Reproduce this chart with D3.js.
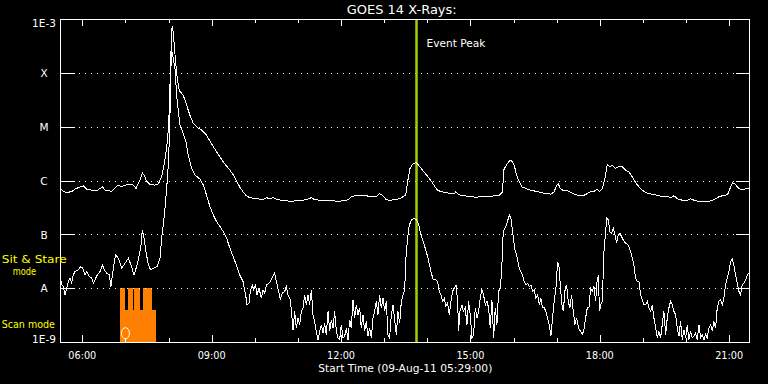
<!DOCTYPE html>
<html><head><meta charset="utf-8">
<script src="https://cdn.jsdelivr.net/npm/d3@7"></script>
<style>html,body{margin:0;padding:0;background:#000;overflow:hidden}</style>
</head><body>
<svg id="chart" width="768" height="384"></svg>
<script>
// ---- data (times in minutes after 00:00 UT, 09-Aug-2011; flux in W/m^2) ----
const titleText = "GOES 14 X-Rays:";
const xAxisTitle = "Start Time (09-Aug-11 05:29:00)";
const timeDomain = [329, 1289];
const xTickHours = [6,7,8,9,10,11,12,13,14,15,16,17,18,19,20,21];
const xLabelHours = [6, 9, 12, 15, 18, 21];
const xTickLabels = ["06:00","09:00","12:00","15:00","18:00","21:00"];
const yTickValues = [1e-9,1e-8,1e-7,1e-6,1e-5,1e-4,1e-3];
const yTickLabels = ["1E-9","A","B","C","M","X","1E-3"];
const eventPeakTime = 825;
const eventLabel = "Event Peak";
const modeLabels = ["Sit & Stare", "mode", "Scan mode"];
const modeStart = [412.5, 419.4, 423.6, 429.9, 432.0, 440.3, 444.5, 457.0];
const modeEnd   = [419.4, 423.6, 429.9, 432.0, 440.3, 444.5, 457.0, 462.6];
const modeLevel = [1e-8, 3.9e-9, 1e-8, 3.9e-9, 1e-8, 3.9e-9, 1e-8, 3.9e-9];
const markerTime = 420, markerFlux = 1.45e-9;

const longChannel = [
[329.0,7.1e-7],[333.6,6.3e-7],[338.3,6.0e-7],[345.2,6.2e-7],[349.9,6.9e-7],[356.8,7.6e-7],[361.5,7.9e-7],[366.1,6.9e-7],[373.1,6.6e-7],[380.0,6.4e-7],[384.6,7.1e-7],[388.4,7.6e-7],[391.6,6.6e-7],[398.6,6.4e-7],[400.9,6.2e-7],[405.5,7.3e-7],[410.1,8.2e-7],[414.8,7.6e-7],[419.4,8.2e-7],[426.4,8.6e-7],[431.0,8.2e-7],[434.7,7.1e-7],[438.0,8.8e-7],[441.2,1.09e-6],[443.5,1.39e-6],[445.9,1.26e-6],[449.6,9.7e-7],[454.2,8.4e-7],[461.2,8.2e-7],[465.8,8.6e-7],[470.4,1.17e-6],[473.7,1.92e-6],[476.5,3.4e-6],[478.3,5.2e-6],[480.2,1.06e-5],[482.0,5.8e-5],[483.4,2.4e-4],[484.3,6.5e-4],[485.3,7.0e-4],[486.7,5.7e-4],[488.0,3.2e-4],[489.9,1.58e-4],[492.2,7.7e-5],[495.0,4.7e-5],[500.6,3.8e-5],[505.2,2.5e-5],[509.8,1.62e-5],[514.5,1.14e-5],[519.1,9.9e-6],[526.1,8.6e-6],[533.0,6.9e-6],[540.0,4.8e-6],[546.9,3.4e-6],[556.2,2.2e-6],[565.5,1.55e-6],
[569.7,1.29e-6],[574.3,1.01e-6],[579.0,7.6e-7],[583.6,6.2e-7],[588.2,5.2e-7],[592.9,4.8e-7],[602.2,4.6e-7],[611.4,4.4e-7],[616.1,4.8e-7],[620.7,4.6e-7],[625.3,4.8e-7],[630.0,4.5e-7],[636.9,4.3e-7],[643.9,4.2e-7],[650.8,4.1e-7],[657.8,4.2e-7],[667.1,4.3e-7],[674.0,4.5e-7],[678.7,4.8e-7],[683.3,4.4e-7],[690.3,4.3e-7],[699.5,4.3e-7],[708.8,4.2e-7],[715.8,4.1e-7],[722.7,4.2e-7],[729.7,4.4e-7],[734.3,5.0e-7],[739.0,5.2e-7],[745.9,5.2e-7],[755.2,5.2e-7],[762.1,5.0e-7],[769.1,5.0e-7],[773.7,5.7e-7],[777.4,5.3e-7],[783.0,4.4e-7],[787.6,4.3e-7],[794.6,4.4e-7],[801.6,4.6e-7],[806.2,5.0e-7],[809.9,5.3e-7],
[812.6,9.4e-7],[815.9,1.67e-6],[819.6,2.0e-6],[824.2,2.15e-6],[827.9,1.92e-6],[833.5,1.55e-6],[839.0,1.26e-6],[845.1,9.9e-7],[849.7,8.0e-7],[854.4,6.6e-7],[859.0,6.2e-7],[866.0,6.0e-7],[872.9,5.6e-7],[877.5,5.7e-7],[879.9,6.2e-7],[883.1,5.6e-7],[886.8,5.3e-7],[891.4,5.3e-7],[896.1,5.0e-7],[903.0,5.0e-7],[907.7,4.8e-7],[912.3,5.0e-7],[919.3,5.1e-7],[926.2,5.0e-7],[933.2,5.2e-7],[940.1,5.3e-7],[944.8,6.2e-7],[946.2,1.55e-6],[948.5,1.79e-6],[951.7,2.07e-6],[955.4,2.4e-6],[958.7,2.2e-6],[961.0,1.92e-6],[964.2,1.26e-6],[968.0,9.4e-7],[971.7,7.6e-7],[977.2,7.1e-7],[984.2,6.6e-7],[991.1,6.3e-7],[998.1,6.0e-7],[1005.1,5.7e-7],[1012.0,5.6e-7],[1016.6,6.2e-7],[1019.9,8.2e-7],[1022.2,8.8e-7],[1024.5,7.3e-7],[1028.2,6.6e-7],[1032.9,6.6e-7],[1037.5,6.2e-7],[1044.5,5.6e-7],[1049.1,5.3e-7],[1053.7,5.2e-7],
[1058.0,5.3e-7],[1062.6,5.7e-7],[1067.2,6.2e-7],[1071.9,6.3e-7],[1076.5,6.9e-7],[1079.7,6.3e-7],[1083.5,7.1e-7],[1087.2,1.09e-6],[1090.4,1.98e-6],[1093.7,1.79e-6],[1097.4,1.92e-6],[1102.0,1.67e-6],[1106.6,1.84e-6],[1111.3,1.79e-6],[1115.9,1.55e-6],[1120.6,1.45e-6],[1125.2,1.17e-6],[1129.8,9.2e-7],[1134.5,7.6e-7],[1139.1,6.6e-7],[1143.7,6.0e-7],[1148.4,5.7e-7],[1155.3,5.5e-7],[1162.3,5.2e-7],[1169.2,5.0e-7],[1173.9,5.1e-7],[1178.5,4.8e-7],[1183.2,5.2e-7],[1187.8,4.6e-7],[1194.7,4.3e-7],[1201.7,4.3e-7],[1206.3,4.6e-7],[1211.0,4.3e-7],[1217.9,4.1e-7],[1224.9,4.0e-7],[1231.8,4.1e-7],[1236.5,4.3e-7],[1241.1,4.6e-7],[1245.8,5.0e-7],[1250.4,5.2e-7],[1255.0,5.3e-7],[1258.7,5.7e-7],[1262.0,7.6e-7],[1265.2,9.1e-7],[1268.9,8.4e-7],[1272.7,7.3e-7],[1275.9,6.8e-7],[1280.5,6.9e-7],[1285.2,7.1e-7],[1288.4,7.1e-7]
];

const shortChannel = [
[329.0,1.77e-8],[331.3,1.15e-8],[333.6,1.07e-8],[336.0,7.5e-9],[338.3,1.0e-8],[340.6,1.33e-8],[342.9,1.54e-8],[345.2,1.24e-8],[347.5,1.77e-8],[349.9,2.03e-8],[354.5,2.19e-8],[357.7,2.52e-8],[360.5,2.35e-8],[363.8,1.77e-8],[366.1,2.03e-8],[369.8,1.65e-8],[373.1,1.54e-8],[375.4,1.24e-8],[377.7,1.43e-8],[380.9,1.77e-8],[384.6,2.03e-8],[387.9,2.7e-8],[390.7,2.19e-8],[393.9,1.9e-8],[397.6,1.77e-8],[399.9,1.07e-8],[403.2,2.35e-8],[406.4,4.14e-8],[410.1,3.6e-8],[414.8,2.35e-8],[418.0,2.7e-8],[424.1,3.6e-8],[427.8,2.7e-8],[431.9,1.77e-8],[435.7,2.52e-8],[439.4,4.14e-8],[441.7,6.35e-8],[443.5,1.2e-7],[445.9,8.4e-8],[448.6,4.77e-8],[451.9,2.7e-8],[455.1,2.19e-8],[458.8,2.35e-8],[464.4,2.52e-8],[468.1,3.6e-8],[470.4,8.4e-8],[472.7,1.49e-7],[475.1,3.03e-7],[477.4,7.1e-7],[479.7,1.92e-6],[481.1,6.0e-6],[482.0,1.62e-5],[482.9,5.8e-5],[483.9,2.8e-4],[486.7,1.82e-4],[489.0,1.19e-4],[491.3,3.8e-5],[495.9,1.06e-5],[500.6,7.4e-6],[504.3,5.2e-6],[507.5,2.9e-6],[512.2,1.67e-6],[516.8,1.26e-6],[523.8,1.06e-6],[528.4,8.2e-7],[533.0,5.3e-7],[537.7,3.25e-7],[542.3,2.28e-7],[546.9,1.72e-7],[551.6,1.39e-7],[556.2,1.12e-7],[560.9,8.4e-8],[565.5,5.5e-8],
[569.7,3.9e-8],[574.3,2.7e-8],[579.0,1.77e-8],[583.6,1.33e-8],[587.3,7.5e-9],[589.2,4.9e-9],[592.0,5.3e-9],[593.8,8.7e-9],[596.6,1.15e-8],[598.4,9.3e-9],[601.2,1.15e-8],[603.1,7.5e-9],[605.9,1.0e-8],[609.1,6.5e-9],[611.4,9.3e-9],[613.8,8.1e-9],[616.1,1.15e-8],[619.8,1.24e-8],[623.0,1.43e-8],[625.3,1.65e-8],[627.7,1.9e-8],[630.0,1.33e-8],[633.2,8.7e-9],[635.5,6.1e-9],[638.3,8.1e-9],[641.6,8.7e-9],[643.9,1.07e-8],[646.2,7.5e-9],[649.5,6.1e-9],[651.8,2.8e-9],[653.2,1.69e-9],[655.5,3.7e-9],[657.8,1.82e-9],[660.1,2.8e-9],[662.4,2.1e-9],[664.8,3.7e-9],[667.1,4.3e-9],[669.4,7.5e-9],[671.7,4.9e-9],[674.0,7.5e-9],[676.3,4.9e-9],[678.7,9.3e-9],[681.0,3.2e-9],[683.3,2.4e-9],[685.6,1.58e-9],[687.9,1.1e-9],[690.3,1.58e-9],[692.6,2.1e-9],[694.9,1.47e-9],[697.2,2.25e-9],[699.5,1.37e-9],[701.9,3.7e-9],[704.2,1.58e-9],[706.5,2.6e-9],[708.8,1.82e-9],[711.1,3.7e-9],[713.5,1.58e-9],[715.8,1.19e-9],[718.1,1.1e-9],[720.4,2.1e-9],[722.7,1.19e-9],[725.0,1.27e-9],[727.4,1.82e-9],[729.7,1.1e-9],[732.0,2.6e-9],[734.3,1.82e-9],[736.6,6.1e-9],[739.0,2.8e-9],[741.3,4.9e-9],[743.6,3.2e-9],[745.9,4.3e-9],[748.2,1.82e-9],[750.5,3.2e-9],[752.9,1.58e-9],[755.2,2.4e-9],[757.5,1.27e-9],[759.8,1.82e-9],[762.1,1.19e-9],[764.5,2.8e-9],[766.8,3.7e-9],[769.1,5.7e-9],[771.4,3.2e-9],[773.7,7.5e-9],[776.0,4.3e-9],[778.4,6.5e-9],[780.7,3.7e-9],[783.0,5.7e-9],[785.3,1.37e-9],[787.6,1.19e-9],[790.0,3.2e-9],[792.3,4.9e-9],[794.6,2.6e-9],[796.9,1.37e-9],[799.2,3.7e-9],[801.6,2.25e-9],[803.9,5.7e-9],[806.2,7.5e-9],[808.5,9.3e-9],
[810.3,3.6e-8],[812.6,8.4e-8],[815.0,1.49e-7],[818.6,1.9e-7],[821.9,1.98e-7],[825.1,1.85e-7],[827.9,1.54e-7],[831.2,9.7e-8],[835.8,6.35e-8],[840.4,3.9e-8],[845.1,2.03e-8],[848.3,1.43e-8],[852.0,1.43e-8],[854.4,1.33e-8],[856.7,8.7e-9],[859.0,7.5e-9],[861.3,5.7e-9],[863.6,6.5e-9],[866.0,4.6e-9],[868.3,5.3e-9],[870.6,3.2e-9],[872.9,5.7e-9],[875.2,8.7e-9],[877.5,1.0e-8],[879.9,1.15e-8],[882.2,5.7e-9],[883.6,1.58e-9],[885.4,3.7e-9],[888.2,4.9e-9],[890.1,3.7e-9],[892.8,4.3e-9],[895.2,2.1e-9],[897.5,5.7e-9],[899.8,3.2e-9],[902.1,1.19e-9],[904.4,1.37e-9],[906.8,4.3e-9],[909.1,2.8e-9],[911.4,3.7e-9],[913.7,6.5e-9],[916.0,9.3e-9],[918.3,7.5e-9],[920.7,4.9e-9],[923.0,5.7e-9],[925.3,4.3e-9],[927.6,1.82e-9],[929.9,6.1e-9],[932.3,1.19e-9],[934.6,4.3e-9],[936.9,2.1e-9],[939.2,8.7e-9],[941.5,1.0e-8],[943.4,2.03e-8],[945.7,1.12e-7],[948.0,1.29e-7],[950.8,1.6e-7],[954.1,2.28e-7],[956.4,1.98e-7],[958.7,1.12e-7],[961.5,5.5e-8],[964.2,4.14e-8],[968.0,2.35e-8],[972.6,1.77e-8],[974.9,1.33e-8],[977.2,1.15e-8],[979.6,1.24e-8],[981.9,1.07e-8],[984.2,1.15e-8],[986.5,8.7e-9],[988.8,9.3e-9],[991.1,6.5e-9],[993.5,7.5e-9],[995.8,4.9e-9],[998.1,6.5e-9],[1000.4,4.3e-9],[1002.7,4.3e-9],[1005.1,3.7e-9],[1007.4,2.8e-9],[1009.7,2.1e-9],[1012.0,1.27e-9],[1014.3,2.8e-9],[1016.6,5.7e-9],[1019.0,1.0e-8],[1021.3,3.1e-8],[1023.6,2.35e-8],[1025.0,1.15e-8],[1027.3,4.9e-9],[1029.2,3.7e-9],[1031.9,1.0e-8],[1033.8,1.15e-8],[1036.1,5.7e-9],[1038.4,4.3e-9],[1040.8,7.5e-9],[1043.1,3.7e-9],[1045.4,2.1e-9],[1047.7,2.8e-9],[1050.5,1.82e-9],
[1053.3,1.58e-9],[1055.6,1.37e-9],[1058.0,1.69e-9],[1060.3,2.8e-9],[1062.6,4.3e-9],[1064.9,4.3e-9],[1067.2,1.0e-8],[1069.5,8.7e-9],[1071.9,1.07e-8],[1074.2,5.7e-9],[1076.5,1.54e-8],[1077.9,1.65e-8],[1079.7,3.7e-9],[1081.1,4.9e-9],[1083.5,5.7e-9],[1085.8,4.77e-8],[1088.1,1.12e-7],[1090.0,2.03e-7],[1091.8,1.85e-7],[1094.1,1.12e-7],[1096.4,1.04e-7],[1098.8,1.29e-7],[1101.1,9.7e-8],[1103.4,6.8e-8],[1105.7,9.7e-8],[1108.0,1.04e-7],[1110.4,9.0e-8],[1112.7,7.85e-8],[1115.9,6.8e-8],[1119.6,6.35e-8],[1122.9,4.77e-8],[1125.2,3.6e-8],[1127.5,2.7e-8],[1129.8,1.54e-8],[1132.1,1.33e-8],[1134.5,1.33e-8],[1136.8,7.5e-9],[1139.1,6.1e-9],[1141.4,4.9e-9],[1143.7,4.9e-9],[1146.1,5.7e-9],[1148.4,4.3e-9],[1150.7,3.7e-9],[1153.0,4.9e-9],[1155.3,2.8e-9],[1157.7,1.82e-9],[1160.0,1.19e-9],[1162.3,1.58e-9],[1164.6,1.19e-9],[1166.9,2.1e-9],[1169.2,3.7e-9],[1171.6,1.37e-9],[1173.9,2.8e-9],[1176.2,4.3e-9],[1178.5,5.7e-9],[1180.8,4.9e-9],[1183.2,3.7e-9],[1185.5,3.2e-9],[1187.8,1.82e-9],[1190.1,1.27e-9],[1192.4,2.4e-9],[1194.7,1.1e-9],[1197.1,1.69e-9],[1199.4,1.19e-9],[1201.7,2.1e-9],[1204.0,1.1e-9],[1206.3,1.58e-9],[1208.7,1.19e-9],[1211.0,1.27e-9],[1213.3,1.47e-9],[1215.6,1.1e-9],[1217.9,2.1e-9],[1220.3,1.19e-9],[1222.6,1.37e-9],[1224.9,1.1e-9],[1227.2,1.37e-9],[1229.5,1.19e-9],[1231.8,1.82e-9],[1234.2,2.1e-9],[1236.5,1.58e-9],[1238.8,2.4e-9],[1241.1,1.82e-9],[1243.4,4.3e-9],[1245.8,5.7e-9],[1248.1,6.1e-9],[1250.4,4.9e-9],[1252.7,6.5e-9],[1255.0,1.15e-8],[1257.3,1.54e-8],[1259.7,2.03e-8],[1262.0,3.1e-8],[1264.3,3.5e-8],[1266.6,2.7e-8],[1268.9,1.77e-8],[1271.3,1.24e-8],[1273.6,8.7e-9],[1275.9,7.5e-9],[1278.2,1.15e-8],[1280.5,1.24e-8],[1282.9,1.43e-8],[1285.2,1.77e-8],[1287.5,1.9e-8],[1288.9,1.77e-8]
];

// ---- drawing ----
const svg = d3.select("#chart");
const FONT = "'DejaVu Sans', sans-serif";
const plot = {left: 60, top: 19, width: 690, height: 323};
const x = d3.scaleLinear().domain(timeDomain).range([plot.left, plot.left + plot.width]);
const y = d3.scaleLog().domain([yTickValues[0], yTickValues[yTickValues.length-1]])
  .range([plot.top + plot.height, plot.top]);
const X0 = plot.left, X1 = plot.left + plot.width, Y0 = plot.top, Y1 = plot.top + plot.height;
const py = v => Math.round(y(v)) + 0.5;
const px = v => Math.round(x(v)) + 0.5;

svg.append("rect").attr("width", 768).attr("height", 384).attr("fill", "#000");

// orange observing-mode blocks
svg.append("g").selectAll("rect").data(modeStart).join("rect")
  .attr("x", (d,i) => x(modeStart[i]))
  .attr("width", (d,i) => x(modeEnd[i]) - x(modeStart[i]))
  .attr("y", (d,i) => y(modeLevel[i]))
  .attr("height", (d,i) => y(yTickValues[0]) - y(modeLevel[i]))
  .attr("fill", "#ff8000").attr("shape-rendering", "crispEdges");

svg.append("ellipse")
  .attr("cx", x(markerTime)).attr("cy", y(markerFlux))
  .attr("rx", 4).attr("ry", 5.6)
  .attr("fill", "none").attr("stroke", "#fff").attr("stroke-width", 1);

// dotted grid at class levels
const g = svg.append("g").attr("shape-rendering", "crispEdges");
yTickValues.slice(1, -1).forEach(v => {
  g.append("line").attr("x1", X0 + 19).attr("x2", X1 - 14)
    .attr("y1", py(v)).attr("y2", py(v))
    .attr("stroke", "#fff").attr("stroke-width", 1).attr("stroke-dasharray", "1,5");
  g.append("line").attr("x1", X0).attr("x2", X0 + 15).attr("y1", py(v)).attr("y2", py(v)).attr("stroke", "#fff");
  g.append("line").attr("x1", X1 - 14).attr("x2", X1).attr("y1", py(v)).attr("y2", py(v)).attr("stroke", "#fff");
});

// event peak line
svg.append("line")
  .attr("x1", x(eventPeakTime)).attr("x2", x(eventPeakTime))
  .attr("y1", Y0).attr("y2", Y1)
  .attr("stroke", "#a0d000").attr("stroke-width", 2.5);

// curves
const clip = svg.append("clipPath").attr("id", "clp").append("rect")
  .attr("x", X0).attr("y", Y0).attr("width", plot.width).attr("height", plot.height);
const line = d3.line()
  .x(d => x(d[0]))
  .y(d => y(Math.max(d[1], yTickValues[0])));
[longChannel, shortChannel].forEach(series => {
  svg.append("path").datum(series)
    .attr("d", line).attr("fill", "none").attr("stroke", "#fff")
    .attr("stroke-width", 1).attr("clip-path", "url(#clp)")
    .attr("shape-rendering", "crispEdges");
});

// frame
svg.append("rect").attr("x", X0 + 0.5).attr("y", Y0 + 0.5)
  .attr("width", plot.width - 1).attr("height", plot.height)
  .attr("fill", "none").attr("stroke", "#fff").attr("shape-rendering", "crispEdges");

// time ticks (bottom and top)
xTickHours.forEach(h => {
  const major = xLabelHours.includes(h);
  const len = major ? 7 : 4;
  g.append("line").attr("x1", px(h*60)).attr("x2", px(h*60))
    .attr("y1", Y1).attr("y2", Y1 - len).attr("stroke", "#fff");
  g.append("line").attr("x1", px(h*60)).attr("x2", px(h*60))
    .attr("y1", Y0).attr("y2", Y0 + len).attr("stroke", "#fff");
});

// time labels
svg.append("g").selectAll("text").data(xLabelHours).join("text")
  .attr("x", d => x(d*60)).attr("y", 359)
  .attr("text-anchor", "middle").attr("fill", "#fff")
  .attr("font-family", FONT).attr("font-size", 10.5)
  .attr("textLength", 28).attr("lengthAdjust", "spacingAndGlyphs")
  .text((d,i) => xTickLabels[i]);

// flux labels
svg.append("g").selectAll("text").data(yTickValues).join("text")
  .attr("x", 44)
  .attr("y", (d,i) => y(d) + (i === 0 ? 1.3 : (i === yTickValues.length-1 ? 7.8 : 4.3)))
  .attr("text-anchor", "middle").attr("fill", "#fff")
  .attr("font-family", FONT).attr("font-size", 10.5)
  .text((d,i) => yTickLabels[i]);

// title & captions
const txt = (s, xx, yy, opt) => {
  const t = svg.append("text").attr("x", xx).attr("y", yy)
    .attr("fill", opt.color || "#fff").attr("font-family", FONT)
    .attr("font-size", opt.size || 11).attr("text-anchor", opt.anchor || "start")
    .text(s);
  if (opt.len) t.attr("textLength", opt.len).attr("lengthAdjust", "spacingAndGlyphs");
  return t;
};
txt(titleText, 401.7, 13.5, {size: 11.5, anchor: "middle", len: 110});
txt(xAxisTitle, 405.3, 371.5, {size: 11, anchor: "middle", len: 174});
txt(eventLabel, x(eventPeakTime) + 10, 47, {size: 11, len: 59});
txt(modeLabels[0], 1.7, 262.7, {size: 11, color: "#ffff00", len: 65});
txt(modeLabels[1], 12.7, 275, {size: 11, color: "#ffff00", len: 23.3});
txt(modeLabels[2], 1.7, 328.3, {size: 11, color: "#ffff00", len: 53.3});
</script>
</body></html>
